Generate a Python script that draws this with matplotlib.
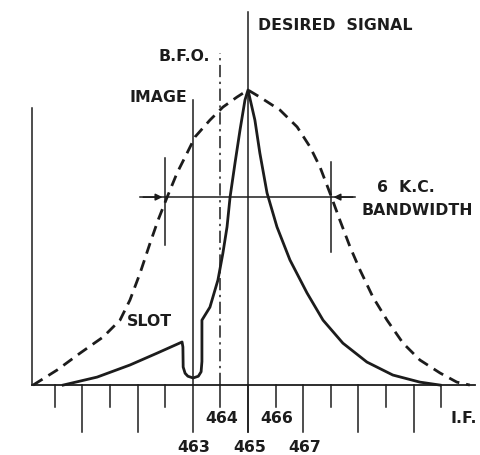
import matplotlib
matplotlib.use('Agg')
import matplotlib.pyplot as plt

# wide (image) response, dashed: frequency in kc, relative response
image_f = [457.21, 458.08, 458.91, 459.75, 460.36, 460.72, 461.09, 461.45,
           461.74, 462.07, 462.43, 462.79, 463.08, 463.62, 464.09, 464.60,
           465.0, 465.43, 466.16, 466.78, 467.25, 467.61, 467.97, 468.33,
           468.70, 469.06, 469.53, 470.04, 470.62, 471.23, 471.96, 472.57,
           473.04]
image_r = [0.0, 0.051, 0.108, 0.163, 0.220, 0.288, 0.380, 0.481,
           0.559, 0.637, 0.719, 0.786, 0.841, 0.898, 0.942, 0.976,
           1.0, 0.976, 0.932, 0.875, 0.807, 0.739, 0.651, 0.559,
           0.468, 0.390, 0.298, 0.220, 0.142, 0.085, 0.041, 0.010,
           0.0]

# desired signal response with the slot, solid
sig_f = [458.30, 459.53, 460.72, 461.70, 462.61, 462.64, 462.65, 462.72,
         462.82, 463.01, 463.20, 463.30, 463.33, 463.33, 463.62, 463.91,
         464.09, 464.24, 464.35, 464.53, 464.71, 464.89, 465.0, 465.25,
         465.43, 465.69, 466.05, 466.52, 467.14, 467.72, 468.44, 469.31,
         470.25, 471.23, 471.96]
sig_r = [0.0, 0.027, 0.068, 0.108, 0.146, 0.129, 0.061, 0.040,
         0.030, 0.024, 0.030, 0.045, 0.080, 0.220, 0.264, 0.356,
         0.447, 0.536, 0.637, 0.753, 0.864, 0.966, 1.0, 0.898,
         0.786, 0.651, 0.536, 0.424, 0.312, 0.220, 0.142, 0.078,
         0.034, 0.010, 0.0]

ticks = list(range(458, 473))
labels_top = {464: '464', 466: '466'}
labels_bottom = {463: '463', 465: '465', 467: '467'}

ink = '#1c1c1c'
plt.rcParams['font.family'] = ['DejaVu Sans']

fig = plt.figure(figsize=(4.8, 4.55), dpi=100)
ax = fig.add_axes([0, 0, 1, 1])
ax.set_xlim(456.01, 473.41)
ax.set_ylim(-0.237, 1.305)
ax.axis('off')

# axes
ax.plot([457.17, 473.22], [0, 0], color=ink, lw=1.3)
ax.plot([457.17, 457.17], [0, 0.94], color=ink, lw=1.1)

# scale ticks, odd ones long
for t in ticks:
    low = -0.16 if t % 2 else -0.075
    ax.plot([t, t], [0, low], color=ink, lw=1.1)

# marker lines
ax.plot([465, 465], [-0.16, 1.264], color=ink, lw=1.1)
ax.plot([463, 463], [0, 0.966], color=ink, lw=1.1)
ax.plot([464, 464], [0, 1.125], color=ink, lw=1.1, linestyle=(0, (8, 3, 1.5, 3)))

# curves
ax.plot(image_f, image_r, color=ink, lw=2.0, linestyle=(0, (4, 2.5)))
ax.plot(sig_f, sig_r, color=ink, lw=2.0, solid_joinstyle='round')

# bandwidth markers
bw = 0.637
ax.plot([462, 462], [0.475, 0.77], color=ink, lw=1.1)
ax.plot([468, 468], [0.45, 0.755], color=ink, lw=1.1)
ax.plot([461.09, 468.88], [bw, bw], color=ink, lw=1.1)
ax.annotate('', xy=(462, bw), xytext=(461.1, bw),
            arrowprops=dict(arrowstyle='-|>', color=ink, lw=1.1, mutation_scale=10))
ax.annotate('', xy=(468, bw), xytext=(468.9, bw),
            arrowprops=dict(arrowstyle='-|>', color=ink, lw=1.1, mutation_scale=10))

fs = 11.3
txt = dict(color=ink, fontsize=fs, fontweight='bold')
ax.text(465.36, 1.217, 'DESIRED  SIGNAL', ha='left', va='center', **txt)
ax.text(463.62, 1.112, 'B.F.O.', ha='right', va='center', **txt)
ax.text(462.79, 0.973, 'IMAGE', ha='right', va='center', **txt)
ax.text(460.62, 0.214, 'SLOT', ha='left', va='center', **txt)
ax.text(469.67, 0.668, '6  K.C.', ha='left', va='center', **txt)
ax.text(469.13, 0.59, 'BANDWIDTH', ha='left', va='center', **txt)
ax.text(472.83, -0.112, 'I.F.', ha='center', va='center', **txt)
for t, s in labels_top.items():
    ax.text(t + 0.05, -0.112, s, ha='center', va='center', **txt)
for t, s in labels_bottom.items():
    ax.text(t + 0.05, -0.21, s, ha='center', va='center', **txt)

fig.savefig('out.png', dpi=100, facecolor='white')
